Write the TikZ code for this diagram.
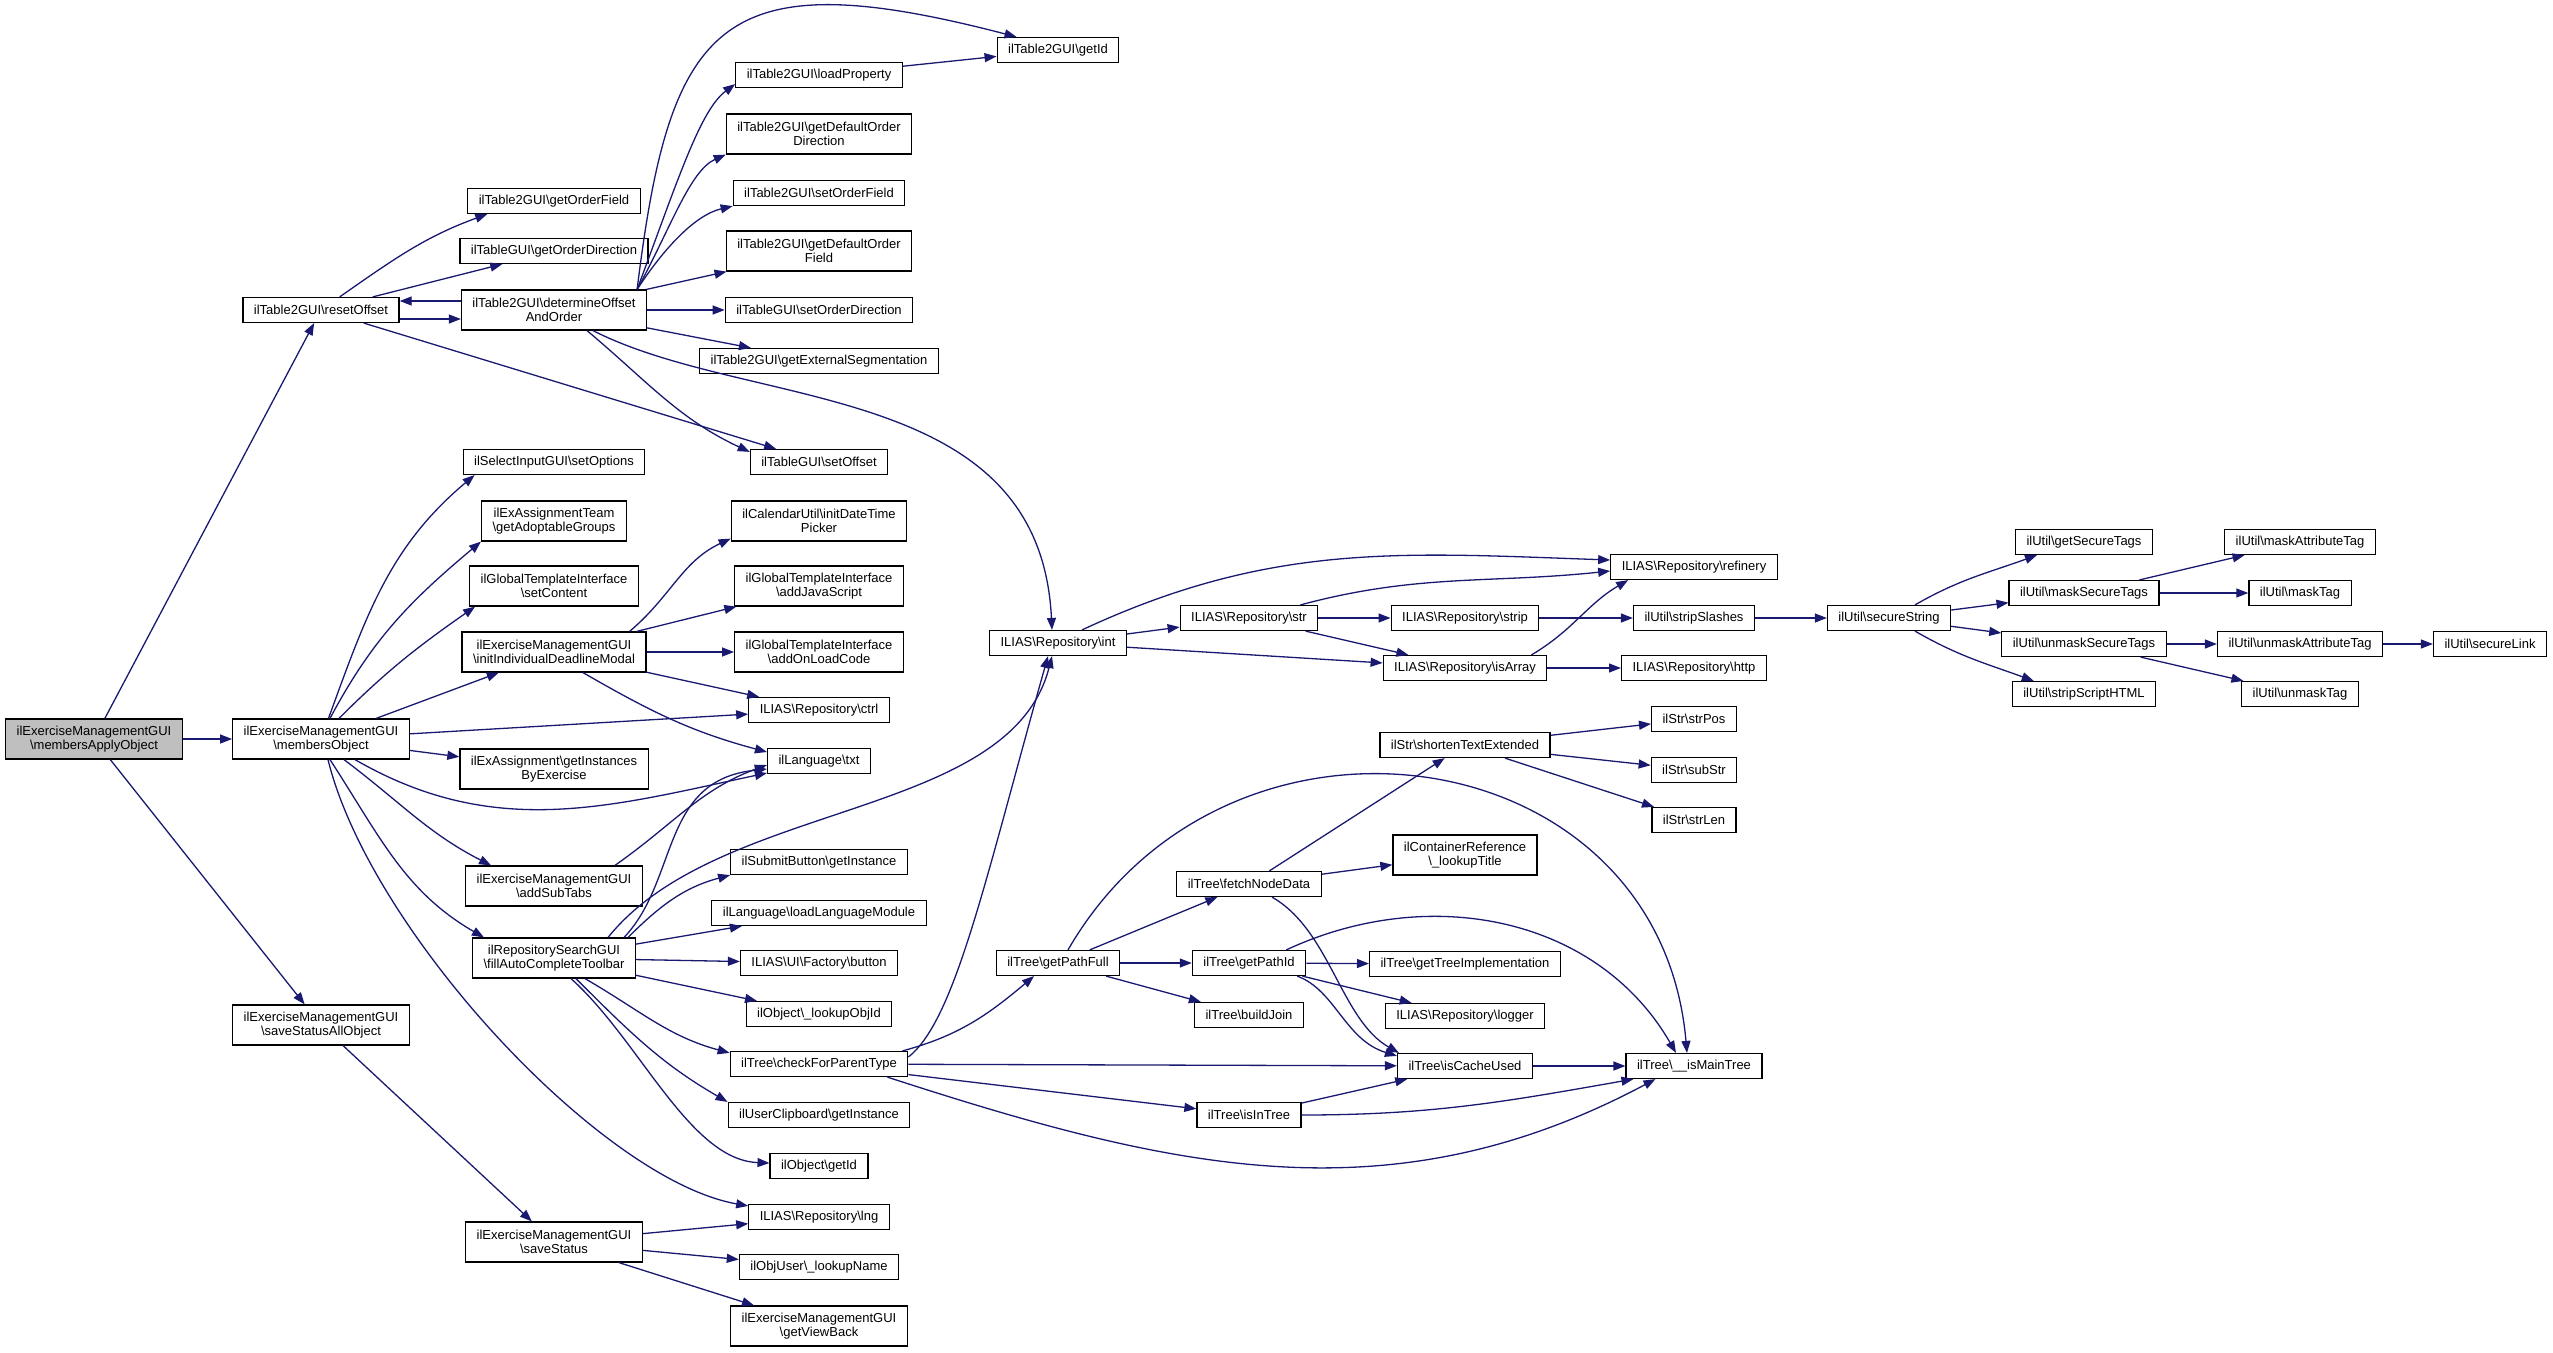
\documentclass[tikz,border=0pt]{standalone}
\usepackage{fontspec}
\setmainfont{Liberation Sans}
\usetikzlibrary{arrows.meta,positioning}
\definecolor{edgeblue}{HTML}{191970}
\definecolor{rootgray}{HTML}{BFBFBF}
\newcommand{\bsl}{\textbackslash}

\begin{document}
\begin{tikzpicture}[x=1pt, y=1pt,
  fnbox/.style={draw, line width=1.2pt, fill=white, inner xsep=11pt, inner ysep=0pt,
    minimum height=25pt, align=center, font=\fontsize{13}{14.5}\selectfont},
  fnbox2/.style={fnbox, minimum height=40pt},
  rootbox/.style={fnbox2, fill=rootgray},
  callarrow/.style={draw=edgeblue, line width=1.3pt, -{Triangle[length=12pt,width=9pt]}}]
\useasboundingbox (0,0) rectangle (2553,-1352);

\node[rootbox] (apply) at (94,-739) {ilExerciseManagementGUI\\\bsl membersApplyObject};

\node[fnbox] (reset) at (321,-310) {ilTable2GUI\bsl resetOffset};
\node[fnbox2] (members) at (321,-739) {ilExerciseManagementGUI\\\bsl membersObject};
\node[fnbox2] (saveall) at (321,-1025) {ilExerciseManagementGUI\\\bsl saveStatusAllObject};

\node[fnbox] (ordfield) at (554,-201) {ilTable2GUI\bsl getOrderField};
\node[fnbox] (orddir) at (554,-251) {ilTableGUI\bsl getOrderDirection};
\node[fnbox2] (determine) at (554,-310) {ilTable2GUI\bsl determineOffset\\AndOrder};
\node[fnbox] (setopt) at (554,-462) {ilSelectInputGUI\bsl setOptions};
\node[fnbox2] (adoptable) at (554,-521) {ilExAssignmentTeam\\\bsl getAdoptableGroups};
\node[fnbox2] (setcontent) at (554,-586) {ilGlobalTemplateInterface\\\bsl setContent};
\node[fnbox2] (deadline) at (554,-652) {ilExerciseManagementGUI\\\bsl initIndividualDeadlineModal};
\node[fnbox2] (instances) at (554,-769) {ilExAssignment\bsl getInstances\\ByExercise};
\node[fnbox2] (subtabs) at (554,-886) {ilExerciseManagementGUI\\\bsl addSubTabs};
\node[fnbox2] (toolbar) at (554,-958) {ilRepositorySearchGUI\\\bsl fillAutoCompleteToolbar};
\node[fnbox2] (savestatus) at (554,-1242) {ilExerciseManagementGUI\\\bsl saveStatus};

\node[fnbox] (loadprop) at (819,-75) {ilTable2GUI\bsl loadProperty};
\node[fnbox2] (defdir) at (819,-134) {ilTable2GUI\bsl getDefaultOrder\\Direction};
\node[fnbox] (setfield) at (819,-193) {ilTable2GUI\bsl setOrderField};
\node[fnbox2] (deffield) at (819,-251) {ilTable2GUI\bsl getDefaultOrder\\Field};
\node[fnbox] (setdir) at (819,-310) {ilTableGUI\bsl setOrderDirection};
\node[fnbox] (extseg) at (819,-361) {ilTable2GUI\bsl getExternalSegmentation};
\node[fnbox] (setoffset) at (819,-462) {ilTableGUI\bsl setOffset};
\node[fnbox2] (picker) at (819,-521) {ilCalendarUtil\bsl initDateTime\\Picker};
\node[fnbox2] (addjs) at (819,-586) {ilGlobalTemplateInterface\\\bsl addJavaScript};
\node[fnbox2] (onload) at (819,-652) {ilGlobalTemplateInterface\\\bsl addOnLoadCode};
\node[fnbox] (ctrl) at (819,-710) {ILIAS\bsl Repository\bsl ctrl};
\node[fnbox] (txt) at (819,-761) {ilLanguage\bsl txt};
\node[fnbox] (submit) at (819,-862) {ilSubmitButton\bsl getInstance};
\node[fnbox] (loadmod) at (819,-913) {ilLanguage\bsl loadLanguageModule};
\node[fnbox] (button) at (819,-963) {ILIAS\bsl UI\bsl Factory\bsl button};
\node[fnbox] (lookupobj) at (819,-1014) {ilObject\bsl\_lookupObjId};
\node[fnbox] (parenttype) at (819,-1064) {ilTree\bsl checkForParentType};
\node[fnbox] (clipboard) at (819,-1115) {ilUserClipboard\bsl getInstance};
\node[fnbox] (objid) at (819,-1166) {ilObject\bsl getId};
\node[fnbox] (lng) at (819,-1217) {ILIAS\bsl Repository\bsl lng};
\node[fnbox] (lookupname) at (819,-1267) {ilObjUser\bsl\_lookupName};
\node[fnbox2] (viewback) at (819,-1326) {ilExerciseManagementGUI\\\bsl getViewBack};

\node[fnbox] (tableid) at (1058,-50) {ilTable2GUI\bsl getId};
\node[fnbox] (repoint) at (1058,-643) {ILIAS\bsl Repository\bsl int};
\node[fnbox] (pathfull) at (1058,-963) {ilTree\bsl getPathFull};

\node[fnbox] (repostr) at (1249,-618) {ILIAS\bsl Repository\bsl str};
\node[fnbox] (fetch) at (1249,-884) {ilTree\bsl fetchNodeData};
\node[fnbox] (pathid) at (1249,-963) {ilTree\bsl getPathId};
\node[fnbox] (buildjoin) at (1249,-1015) {ilTree\bsl buildJoin};
\node[fnbox] (intree) at (1249,-1115) {ilTree\bsl isInTree};

\node[fnbox] (strip) at (1465,-618) {ILIAS\bsl Repository\bsl strip};
\node[fnbox] (isarray) at (1465,-668) {ILIAS\bsl Repository\bsl isArray};
\node[fnbox] (shorten) at (1465,-745) {ilStr\bsl shortenTextExtended};
\node[fnbox2] (lookuptitle) at (1465,-855) {ilContainerReference\\\bsl\_lookupTitle};
\node[fnbox] (treeimpl) at (1465,-964) {ilTree\bsl getTreeImplementation};
\node[fnbox] (logger) at (1465,-1016) {ILIAS\bsl Repository\bsl logger};
\node[fnbox] (cacheused) at (1465,-1066) {ilTree\bsl isCacheUsed};

\node[fnbox] (refinery) at (1694,-567) {ILIAS\bsl Repository\bsl refinery};
\node[fnbox] (slashes) at (1694,-618) {ilUtil\bsl stripSlashes};
\node[fnbox] (http) at (1694,-668) {ILIAS\bsl Repository\bsl http};
\node[fnbox] (strpos) at (1694,-719) {ilStr\bsl strPos};
\node[fnbox] (substr) at (1694,-770) {ilStr\bsl subStr};
\node[fnbox] (strlen) at (1694,-820) {ilStr\bsl strLen};
\node[fnbox] (maintree) at (1694,-1066) {ilTree\bsl\_\_isMainTree};

\node[fnbox] (securestr) at (1889,-618) {ilUtil\bsl secureString};

\node[fnbox] (securetags) at (2084,-542) {ilUtil\bsl getSecureTags};
\node[fnbox] (masktags) at (2084,-593) {ilUtil\bsl maskSecureTags};
\node[fnbox] (unmasktags) at (2084,-644) {ilUtil\bsl unmaskSecureTags};
\node[fnbox] (scripthtml) at (2084,-694) {ilUtil\bsl stripScriptHTML};

\node[fnbox] (maskattr) at (2300,-542) {ilUtil\bsl maskAttributeTag};
\node[fnbox] (masktag) at (2300,-593) {ilUtil\bsl maskTag};
\node[fnbox] (unmaskattr) at (2300,-644) {ilUtil\bsl unmaskAttributeTag};
\node[fnbox] (unmasktag) at (2300,-694) {ilUtil\bsl unmaskTag};

\node[fnbox] (securelink) at (2490,-644) {ilUtil\bsl secureLink};

\coordinate (dtop) at ([xshift=-10pt]determine.north east);

% membersApplyObject
\draw[callarrow] (apply) -- (reset);
\draw[callarrow] (apply) -- (members);
\draw[callarrow] (apply) -- (saveall);

% resetOffset
\draw[callarrow] (reset) to[out=35,in=200] ([xshift=20pt]ordfield.south west);
\draw[callarrow] (reset) -- (orddir);
\draw[callarrow] ([yshift=-9pt]reset.east) -- ([yshift=-9pt]determine.west);
\draw[callarrow] (reset) -- (setoffset);

% determineOffsetAndOrder
\draw[callarrow] ([yshift=9pt]determine.west) -- ([yshift=9pt]reset.east);
\draw[callarrow] (dtop) .. controls +(33,270) and +(-296,77) .. ([xshift=20pt]tableid.north west);
\draw[callarrow] (dtop) .. controls +(41,110) and +(-35,-26) .. ([yshift=4pt]loadprop.south west);
\draw[callarrow] (dtop) .. controls +(33,60) and +(-36,-16) .. (defdir.south west);
\draw[callarrow] (dtop) .. controls +(26,40) and +(-38,-9) .. (setfield.south west);
\draw[callarrow] (determine) -- (deffield);
\draw[callarrow] (determine) -- (setdir);
\draw[callarrow] (determine) -- (extseg);
\draw[callarrow] ([xshift=33pt]determine.south) to[out=-40,in=155] ([yshift=-3pt]setoffset.north west);
\draw[callarrow] ([xshift=39pt]determine.south) .. controls +(157,-80) and +(-12,251) .. ([xshift=-6pt]repoint.north);
\draw[callarrow] (loadprop) -- (tableid);

% membersObject
\draw[callarrow] (members) to[out=70,in=220] ([xshift=12pt]setopt.south west);
\draw[callarrow] ([xshift=9pt]members.north) to[out=62,in=220] (adoptable.south west);
\draw[callarrow] ([xshift=18pt]members.north) to[out=45,in=215] ([xshift=6pt]setcontent.south west);
\draw[callarrow] (members) -- (deadline);
\draw[callarrow] (members) -- (ctrl);
\draw[callarrow] (members) -- (instances);
\draw[callarrow] ([xshift=34pt]members.south) to[out=-30,in=192] ([yshift=-12pt]txt.west);
\draw[callarrow] ([xshift=23pt]members.south) to[out=-37,in=153] ([xshift=26pt]subtabs.north west);
\draw[callarrow] ([xshift=9pt]members.south) to[out=-57,in=150] ([xshift=12pt]toolbar.north west);
\draw[callarrow] ([xshift=7pt]members.south) .. controls +(42,-171) and +(-147,26) .. ([yshift=-2pt]lng.north west);

% initIndividualDeadlineModal
\draw[callarrow] ([xshift=-17pt]deadline.north east) to[out=40,in=205] ([yshift=3pt]picker.south west);
\draw[callarrow] (deadline) -- (addjs);
\draw[callarrow] (deadline) -- (onload);
\draw[callarrow] (deadline) -- (ctrl);
\draw[callarrow] ([xshift=29pt]deadline.south) to[out=-30,in=165] ([yshift=9pt]txt.west);

% addSubTabs, fillAutoCompleteToolbar
\draw[callarrow] ([xshift=-28pt]subtabs.north east) to[out=35,in=200] ([yshift=-4pt]txt.west);
\draw[callarrow] ([xshift=-12pt]toolbar.north east) .. controls +(55,58) and +(-107,-11) .. ([yshift=-8pt]txt.west);
\draw[callarrow] ([xshift=-28pt]toolbar.north east) .. controls +(111,138) and +(-42,-164) .. ([xshift=-6pt]repoint.south);
\draw[callarrow] ([xshift=-8pt]toolbar.north east) to[out=45,in=195] (submit.south west);
\draw[callarrow] (toolbar) -- (loadmod);
\draw[callarrow] (toolbar) -- (button);
\draw[callarrow] (toolbar) -- (lookupobj);
\draw[callarrow] ([xshift=31pt]toolbar.south) to[out=-30,in=165] ([yshift=-2pt]parenttype.north west);
\draw[callarrow] ([xshift=22pt]toolbar.south) to[out=-45,in=150] (clipboard.north west);
\draw[callarrow] ([xshift=17pt]toolbar.south) .. controls +(69,-62) and +(-80,3) .. ([yshift=3pt]objid.west);

% saveStatus
\draw[callarrow] (saveall) -- (savestatus);
\draw[callarrow] (savestatus) -- (lng);
\draw[callarrow] (savestatus) -- (lookupname);
\draw[callarrow] (savestatus) -- (viewback);

% checkForParentType
\draw[callarrow] ([xshift=-6pt]parenttype.north east) to[out=15,in=220] ([xshift=-24pt]pathfull.south);
\draw[callarrow] ([yshift=7pt]parenttype.east) .. controls +(47,37) and +(-63,-224) .. ([xshift=-10pt]repoint.south);
\draw[callarrow] (parenttype) -- (cacheused);
\draw[callarrow] (parenttype) -- (intree);
\draw[callarrow] ([xshift=-21pt]parenttype.south east) to[out=-18,in=-152] ([xshift=30pt]maintree.south west);

% ILIAS\Repository
\draw[callarrow] ([xshift=-45pt]repoint.north east) to[out=25,in=178] ([yshift=7pt]refinery.west);
\draw[callarrow] (repoint) -- (repostr);
\draw[callarrow] (repoint) -- (isarray);
\draw[callarrow] ([xshift=-18pt]repostr.north east) to[out=15,in=186] ([yshift=-4pt]refinery.west);
\draw[callarrow] (repostr) -- (strip);
\draw[callarrow] (repostr) -- (isarray);
\draw[callarrow] ([xshift=-16pt]isarray.north east) .. controls +(41,24) and +(-41,-24) .. ([xshift=18pt]refinery.south west);
\draw[callarrow] (isarray) -- (http);
\draw[callarrow] (strip) -- (slashes);
\draw[callarrow] (slashes) -- (securestr);

% ilUtil
\draw[callarrow] ([xshift=26pt]securestr.north) to[out=30,in=200] ([xshift=22pt]securetags.south west);
\draw[callarrow] (securestr) -- (masktags);
\draw[callarrow] (securestr) -- (unmasktags);
\draw[callarrow] ([xshift=26pt]securestr.south) to[out=-30,in=160] ([xshift=22pt]scripthtml.north west);
\draw[callarrow] (masktags) -- (maskattr);
\draw[callarrow] (masktags) -- (masktag);
\draw[callarrow] (unmasktags) -- (unmaskattr);
\draw[callarrow] (unmasktags) -- (unmasktag);
\draw[callarrow] (unmaskattr) -- (securelink);

% ilTree
\draw[callarrow] (pathfull) -- (fetch);
\draw[callarrow] (pathfull) -- (pathid);
\draw[callarrow] (pathfull) -- (buildjoin);
\draw[callarrow] ([xshift=10pt]pathfull.north) to[out=60,in=95,looseness=1.3] ([xshift=-7pt]maintree.north);
\draw[callarrow] (fetch) -- (shorten);
\draw[callarrow] (fetch) -- (lookuptitle);
\draw[callarrow] ([xshift=23pt]fetch.south) .. controls +(58,-33) and +(-58,33) .. ([xshift=2pt]cacheused.north west);
\draw[callarrow] ([xshift=-20pt]pathid.north east) to[out=25,in=120] ([xshift=-18pt]maintree.north);
\draw[callarrow] (pathid) -- (treeimpl);
\draw[callarrow] (pathid) -- (logger);
\draw[callarrow] ([xshift=-9pt]pathid.south east) .. controls +(38,-14) and +(-52,16) .. ([yshift=-3pt]cacheused.north west);
\draw[callarrow] (shorten) -- (strpos);
\draw[callarrow] (shorten) -- (substr);
\draw[callarrow] (shorten) -- (strlen);
\draw[callarrow] (cacheused) -- (maintree);
\draw[callarrow] (intree) -- (cacheused);
\draw[callarrow] (intree.east) to[out=0,in=190] ([xshift=8pt]maintree.south west);

\end{tikzpicture}
\end{document}
